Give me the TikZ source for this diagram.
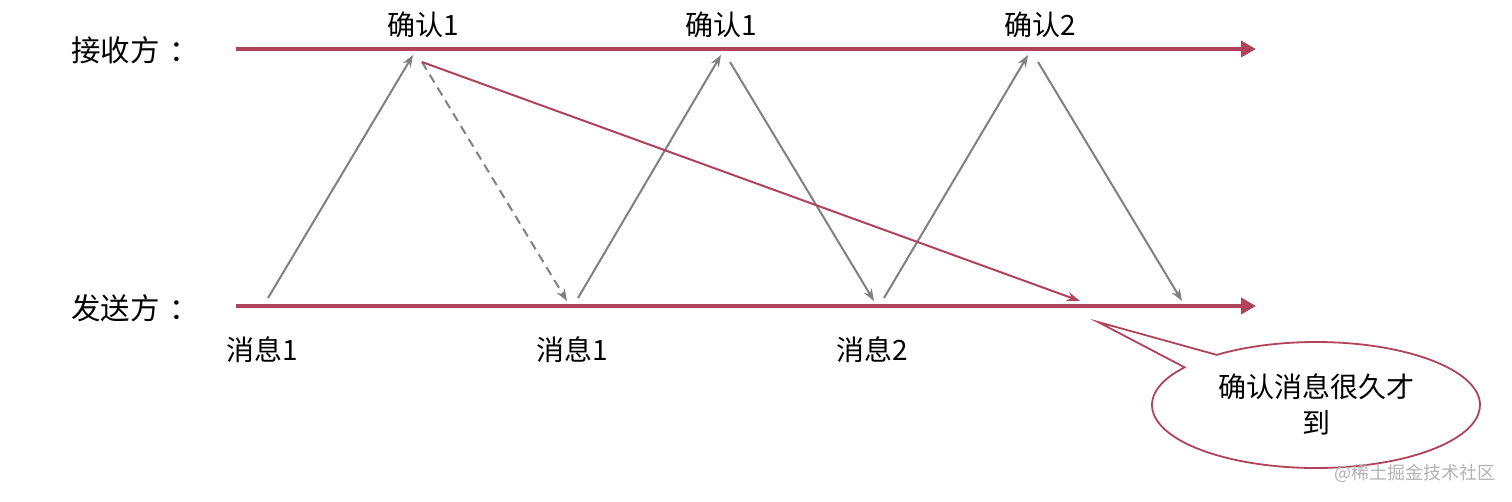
\documentclass[tikz,border=0pt]{standalone}
\usepackage{fontspec}
\setmainfont{Noto Sans CJK SC}
\usetikzlibrary{arrows.meta,shapes.callouts,shapes.geometric}
\definecolor{axred}{RGB}{176,66,90}
\definecolor{msggray}{RGB}{128,128,128}
\tikzset{
  axis/.style={draw=axred,line width=4.6pt,-{Triangle[length=15pt,width=16pt]}},
  msg/.style={draw=msggray,line width=2pt,-{Stealth[length=12pt,width=9pt]}},
  msgdash/.style={msg,dash pattern=on 9pt off 6pt},
  late/.style={draw=axred,line width=2pt,-{Stealth[length=13pt,width=9pt]}},
  lbl/.style={font=\fontsize{29.5}{32}\selectfont,text=black,inner sep=0pt},
  txt/.style={font=\fontsize{28}{32}\selectfont,text=black,inner sep=0pt},
}
\begin{document}
\begin{tikzpicture}[x=1pt,y=-1pt]
\useasboundingbox (0,0) rectangle (1512,501);
% axes
\coordinate (r0) at (236,49); \coordinate (r1) at (1256,49);
\coordinate (s0) at (236,306); \coordinate (s1) at (1256,306);
\draw[axis] (r0) -- (r1);
\draw[axis] (s0) -- (s1);
\node[lbl,anchor=west] (recv) at (71,50) {接收方\kern10pt：};
\node[lbl,anchor=west] (send) at (71,308) {发送方\kern10pt：};
% labels
\node[txt] (a1) at (423,25) {确认1};
\node[txt] (a2) at (721,25) {确认1};
\node[txt] (a3) at (1040,25) {确认2};
\node[txt] (m1) at (262,350) {消息1};
\node[txt] (m2) at (572,350) {消息1};
\node[txt] (m3) at (872,350) {消息2};
% message points
\coordinate (p1) at (268,298); \coordinate (q1) at (413,55);
\coordinate (q1b) at (422,62); \coordinate (p2) at (567,301);
\coordinate (p2b) at (578,298); \coordinate (q2) at (721,55);
\coordinate (q2b) at (730,62); \coordinate (p3) at (874,301);
\coordinate (p3b) at (884,298); \coordinate (q3) at (1028,55);
\coordinate (q3b) at (1038,62); \coordinate (p4) at (1182,301);
\coordinate (lateend) at (1080,301);
\draw[msg] (p1) -- (q1);
\draw[msgdash] (q1b) -- (p2);
\draw[msg] (p2b) -- (q2);
\draw[msg] (q2b) -- (p3);
\draw[msg] (p3b) -- (q3);
\draw[msg] (q3b) -- (p4);
\draw[late] (q1b) -- (lateend);
% callout
\coordinate (tip) at (1098,322);
\node[ellipse callout,draw=axred,line width=1.8pt,fill=white,minimum width=328pt,minimum height=126pt,
  callout absolute pointer={(tip)},callout pointer arc=16] (bubble) at (1316,405) {};
\node[txt,align=center,font=\fontsize{28}{36}\selectfont] (btxt) at (1316,404) {确认消息很久才\\到};
\node[inner sep=0pt,text=black!30,font=\fontsize{18}{20}\selectfont,anchor=east] (wm) at (1496,473) {@稀土掘金技术社区};
\end{tikzpicture}
\end{document}
